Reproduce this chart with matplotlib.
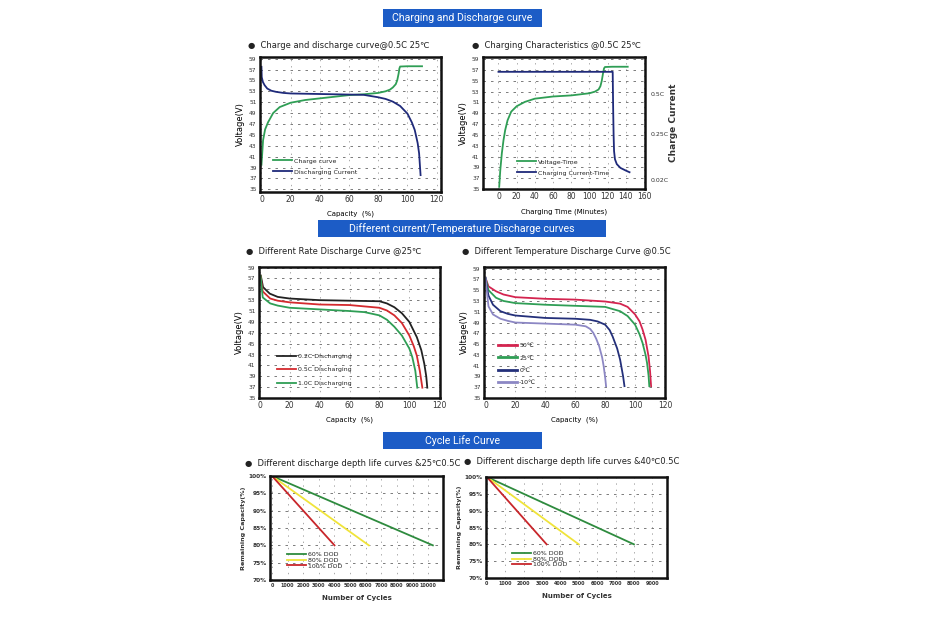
import matplotlib.pyplot as plt
from matplotlib.patches import Rectangle

W, H = 942, 623

# ---- charge and discharge curve @0.5C 25C (capacity %, voltage V)
charge_cap = [0, 0.5, 1.1, 2.5, 4.5, 8, 12.5, 20, 30, 40, 50, 60, 70, 80,
              85, 88, 90, 92, 93, 94, 94.5, 95, 100, 110]
charge_v = [39.5, 41.5, 44.0, 46.0, 47.3, 49.0, 50.1, 50.9, 51.4, 51.7, 52.0,
            52.3, 52.45, 52.7, 53.0, 53.3, 53.7, 54.3, 55.0, 56.3, 57.2, 57.55,
            57.6, 57.6]
dis_cap = [0, 0.2, 1, 2.2, 4, 6.8, 10, 15, 20, 40, 60, 70, 80, 85, 90, 95, 100,
           103, 105, 107, 108, 109]
dis_v = [57.5, 55.6, 54.7, 54.1, 53.5, 53.1, 52.9, 52.7, 52.6, 52.5, 52.4,
         52.35, 51.9, 51.6, 51.1, 50.3, 48.9, 47.3, 45.9, 43.5, 41.6, 37.6]

# ---- charging characteristics @0.5C 25C (minutes)
chg_time = [0.8, 2, 3.7, 5.5, 7.4, 10, 14, 20, 29, 40, 60, 80, 100, 106, 110,
            112, 113.5, 115, 116, 117, 125, 142]
chg_volt = [35.4, 38.5, 41.6, 44.0, 45.9, 47.7, 49.3, 50.3, 51.1, 51.7, 52.1,
            52.3, 52.7, 53.0, 53.4, 54.0, 55.0, 56.5, 57.3, 57.55, 57.6, 57.6]
cur_time = [0, 125.5, 126, 126.5, 127, 128, 130, 134, 140, 144]
cur_level = [56.66, 56.66, 50, 45, 42, 40.5, 39.6, 38.9, 38.4, 38.1]
cur_tick_pos = [52.5, 45.2, 36.7]
cur_tick_labels = ["0.5C", "0.25C", "0.02C"]

# ---- different rate discharge @25C
rate_labels = ["0.2C Discharging", "0.5C Discharging", "1.0C Discharging"]
rate_cap = [
    [0.7, 2.2, 6.7, 12, 20, 40, 60, 80, 85, 90, 95, 100, 105, 108, 110, 111.3, 112],
    [0.5, 2, 7, 12, 20, 40, 60, 80, 85, 90, 95, 100, 103, 105, 107, 108.7],
    [0.5, 2, 7, 12, 20, 40, 60, 70, 80, 85, 90, 95, 100, 102, 104, 105.3],
]
rate_v = [
    [57.5, 55.4, 54.2, 53.6, 53.3, 53.0, 52.9, 52.8, 52.4, 51.7, 50.6, 49.0,
     46.2, 43.8, 41.3, 39.0, 36.9],
    [57.5, 54.6, 53.3, 52.9, 52.6, 52.2, 52.1, 51.6, 51.1, 50.2, 48.8, 46.5,
     44.5, 42.8, 40.0, 36.9],
    [57.5, 53.5, 52.4, 52.0, 51.6, 51.3, 51.0, 50.8, 50.2, 49.4, 48.1, 46.5,
     44.1, 42.5, 40.0, 36.9],
]
rate_colors = ["#222222", "#d42a2e", "#2f9e55"]

# ---- different temperature discharge @0.5C
temp_labels = ["50℃", "25℃", "0℃", "-10℃"]
temp_cap = [
    [0, 2, 7, 12, 20, 40, 60, 80, 90, 95, 100, 103, 105, 107, 109, 110, 110.7],
    [0, 2, 7, 12, 20, 40, 60, 80, 90, 95, 100, 103, 105, 107, 108, 109, 109.5],
    [0, 1, 2, 5, 10, 15, 20, 40, 60, 70, 75, 80, 83, 85, 88, 90, 92, 92.9],
    [0, 1, 2, 5, 10, 15, 20, 40, 60, 67, 70, 72, 74, 76, 78, 79, 80, 80.6],
]
temp_v = [
    [57.3, 55.7, 54.8, 54.2, 53.7, 53.4, 53.25, 52.9, 52.5, 51.9, 50.5, 49.2,
     47.7, 45.8, 42.7, 40.0, 37.2],
    [57.3, 55.0, 53.6, 53.0, 52.6, 52.3, 52.1, 51.9, 51.1, 50.2, 48.6, 46.8,
     45.2, 43.0, 41.5, 39.2, 37.2],
    [57.3, 55.5, 54.0, 52.3, 51.1, 50.6, 50.3, 49.85, 49.7, 49.5, 49.2, 48.6,
     47.6, 46.4, 44.2, 42.1, 39.0, 37.2],
    [57.3, 54.5, 52.0, 50.5, 49.7, 49.3, 49.0, 48.8, 48.6, 48.3, 47.8, 47.1,
     46.0, 44.6, 42.5, 40.9, 38.8, 37.2],
]
temp_colors = ["#d4244f", "#2f9e55", "#24307a", "#8c87c4"]

# ---- cycle life
dod_labels = ["60% DOD", "80% DOD", "100% DOD"]
dod_colors = ["#2e8b3e", "#f0e43a", "#c8262b"]
cycles_25 = [10300, 6200, 4000]
cycles_40 = [8000, 5000, 3250]
cap_start, cap_end = 100, 80

GREEN = "#2f9e55"
NAVY = "#1f2a7a"
BANNER = "#1c5cc6"
FONT = ["DejaVu Sans", "Noto Sans CJK SC"]


def box(x0, y0, x1, y1):
	"""pixel box (origin top-left) -> figure fraction rect"""
	return [x0 / W, 1 - y1 / H, (x1 - x0) / W, (y1 - y0) / H]


def style_axes(ax, xlim, ylim, xticks, yticks, ylabels=None, bold=False,
               xsize=5.5, ysize=4.2):
	ax.set_xlim(*xlim)
	ax.set_ylim(*ylim)
	ax.set_xticks(xticks)
	ax.set_yticks(yticks)
	if ylabels is not None:
		ax.set_yticklabels(ylabels)
	w = "bold" if bold else "normal"
	for lab in ax.get_xticklabels():
		lab.set_fontsize(xsize)
		lab.set_fontweight(w)
		lab.set_color("#333333")
	for lab in ax.get_yticklabels():
		lab.set_fontsize(ysize)
		lab.set_fontweight(w)
		lab.set_color("#333333")
	ax.tick_params(length=0, pad=2.5)
	for sp in ax.spines.values():
		sp.set_linewidth(1.8)
		sp.set_color("#111111")
	ax.grid(axis="y", ls=(0, (3, 6)), color="#666666", lw=0.6)
	ax.grid(axis="x", ls=(0, (2, 7)), color="#888888", lw=0.5)
	ax.set_axisbelow(True)


def add_legend(ax, x, y, spacing, hlen=3.0, size=4.5):
	leg = ax.legend(loc="upper left", bbox_to_anchor=(x, y), frameon=False,
	                fontsize=size, handlelength=hlen, handletextpad=0.4,
	                labelspacing=spacing, borderpad=0, borderaxespad=0)
	for t in leg.get_texts():
		t.set_color("#222222")


def banner(x0, y0, x1, y1, text):
	fig.add_artist(Rectangle((x0 / W, 1 - y1 / H), (x1 - x0) / W, (y1 - y0) / H,
	                         transform=fig.transFigure, color=BANNER, lw=0))
	fig.text((x0 + x1) / 2 / W, 1 - (y0 + y1) / 2 / H, text, color="white",
	         fontsize=7.6, family="Roboto", ha="center", va="center")


def title(x, y, text):
	fig.text(x / W, 1 - y / H, "●  " + text, fontsize=6, family=FONT,
	         ha="left", va="center", color="#222222")


fig = plt.figure(figsize=(W / 100, H / 100), dpi=100)

banner(383, 9, 542, 27, "Charging and Discharge curve")
banner(318, 220, 606, 237, "Different current/Temperature Discharge curves")
banner(383, 432, 542, 449, "Cycle Life Curve")

title(248, 45, "Charge and discharge curve@0.5C 25℃")
title(472, 45, "Charging Characteristics @0.5C 25℃")
title(246, 251, "Different Rate Discharge Curve @25℃")
title(462, 251, "Different Temperature Discharge Curve @0.5C")
title(245, 463, "Different discharge depth life curves &25℃0.5C")
title(464, 462, "Different discharge depth life curves &40℃0.5C")

volt_ticks = list(range(35, 60, 2))

# PANEL 1: charge and discharge
ax1 = fig.add_axes(box(260, 57, 441, 192))
ax1.plot(charge_cap, charge_v, color=GREEN, lw=1.3, label="Charge curve")
ax1.plot(dis_cap, dis_v, color=NAVY, lw=1.3, label="Discharging Current")
style_axes(ax1, (-1, 123), (34.5, 59.3), range(0, 121, 20), volt_ticks)
ax1.set_ylabel("Voltage(V)", fontsize=6, labelpad=3)
ax1.set_xlabel("Capacity  (%)", fontsize=5, labelpad=4)
add_legend(ax1, 0.072, 0.25, 0.9)

# PANEL 2: charging characteristics
ax2 = fig.add_axes(box(483, 57, 645, 189))
ax2.plot(chg_time, chg_volt, color=GREEN, lw=1.3, label="Voltage-Time")
ax2.plot(cur_time, cur_level, color=NAVY, lw=1.3, label="Charging Current-Time")
style_axes(ax2, (-17, 161), (35, 59.4), range(0, 161, 20), volt_ticks)
ax2.set_ylabel("Voltage(V)", fontsize=6, labelpad=3)
ax2.set_xlabel("Charging Time (Minutes)", fontsize=5, labelpad=5)
add_legend(ax2, 0.21, 0.225, 0.9)
ax2r = ax2.twinx()
ax2r.set_ylim(ax2.get_ylim())
ax2r.set_yticks(cur_tick_pos)
ax2r.set_yticklabels(cur_tick_labels, fontsize=4.5, color="#333333")
ax2r.tick_params(length=0, pad=4)
for sp in ax2r.spines.values():
	sp.set_visible(False)
ax2r.set_ylabel("Charge Current", fontsize=6.5, fontweight="bold",
                color="#333333", labelpad=0)

# PANEL 3: rate discharge
ax3 = fig.add_axes(box(259, 267, 440, 398))
for cap, v, c, lab in zip(rate_cap, rate_v, rate_colors, rate_labels):
	ax3.plot(cap, v, color=c, lw=1.3, label=lab)
style_axes(ax3, (-0.5, 120.5), (35, 59.1), range(0, 121, 20), volt_ticks)
ax3.set_ylabel("Voltage(V)", fontsize=6, labelpad=3)
ax3.set_xlabel("Capacity  (%)", fontsize=5, labelpad=4)
add_legend(ax3, 0.1, 0.34, 1.3)

# PANEL 4: temperature discharge
ax4 = fig.add_axes(box(484, 267, 665, 398))
for cap, v, c, lab in zip(temp_cap, temp_v, temp_colors, temp_labels):
	ax4.plot(cap, v, color=c, lw=1.3, label=lab)
style_axes(ax4, (-1, 120), (35, 59.3), range(0, 121, 20), volt_ticks)
ax4.set_ylabel("Voltage(V)", fontsize=6, labelpad=3)
ax4.set_xlabel("Capacity  (%)", fontsize=5, labelpad=4)
add_legend(ax4, 0.077, 0.42, 1.1)
for line in ax4.get_legend().get_lines():
	line.set_linewidth(2)

# PANELS 5/6: cycle life
pct_ticks = list(range(70, 101, 5))
pct_labels = [f"{p}%" for p in pct_ticks]
for rect, cycles, xmax, xlim, legx in [
		(box(270, 476, 443, 580), cycles_25, 10000, (-130, 10950), 0.098),
		(box(486, 477, 667, 578), cycles_40, 9000, (-50, 9800), 0.144)]:
	ax = fig.add_axes(rect)
	for n, c, lab in zip(cycles, dod_colors, dod_labels):
		ax.plot([0, n], [cap_start, cap_end], color=c, lw=1.3, label=lab)
	style_axes(ax, xlim, (70, 100), range(0, xmax + 1, 1000), pct_ticks,
	           pct_labels, bold=True, xsize=3.5, ysize=4.2)
	ax.set_ylabel("Remaining Capacity(%)", fontsize=4.6, fontweight="bold",
	              color="#333333", labelpad=2)
	ax.set_xlabel("Number of Cycles", fontsize=5, fontweight="bold",
	              color="#333333", labelpad=5)
	add_legend(ax, legx, 0.27, 0.05, size=4.5)

plt.savefig("out.png", dpi=100)
plt.close()
